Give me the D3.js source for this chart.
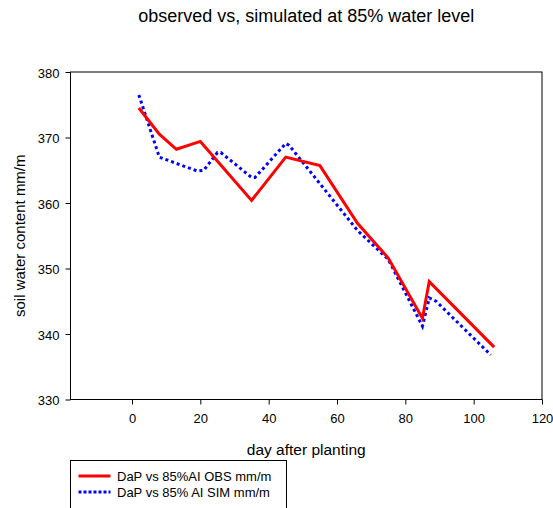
<!DOCTYPE html>
<html>
<head>
<meta charset="utf-8">
<script src="https://cdn.jsdelivr.net/npm/d3@7"></script>
<style>
  body { margin: 0; background: #fff; }
  svg { font-family: "Liberation Sans", Arial, sans-serif; }
</style>
</head>
<body>
<div id="svg"></div>
<script>
// observed (red) and simulated (blue) soil water
var obsDays = [2, 8, 13, 20, 35, 45, 55, 66, 75, 85, 87, 106];
var obsValues = [374.5, 370.5, 368.2, 369.4, 360.4, 367.0, 365.7, 356.9, 351.6, 342.4, 348.0, 338.0];

var simDays = [2, 8, 19, 21, 25, 26, 35, 36, 45, 46, 66, 75, 85, 87, 89, 105];
var simValues = [376.5, 367.0, 364.9, 365.0, 367.7, 367.7, 363.9, 363.9, 369.1, 368.8, 355.8, 351.4, 341.2, 345.5, 345.0, 336.8];

var xTicks = [0, 20, 40, 60, 80, 100, 120];
var yTicks = [330, 340, 350, 360, 370, 380];

var seriesNames = ["DaP vs 85%AI OBS mm/m", "DaP vs 85% AI SIM mm/m"];

// set the dimensions and margins of the graph
var margin = { top: 72, right: 11, bottom: 108.5, left: 70.5 },
    width = 553 - margin.left - margin.right,
    height = 508 - margin.top - margin.bottom;

var x = d3.scaleLinear().domain([-18, 120]).range([0, width]);
var y = d3.scaleLinear().domain([330, 380]).range([height, 0]);

var svg = d3.select("#svg").append("svg")
    .attr("width", 553)
    .attr("height", 508);

var g = svg.append("g")
    .attr("transform", "translate(" + margin.left + "," + margin.top + ")");

// title
svg.append("text")
    .attr("x", margin.left + width / 2)
    .attr("y", 22)
    .attr("text-anchor", "middle")
    .style("font-size", "18px")
    .text("observed vs, simulated at 85% water level");

// frame
g.append("rect")
    .attr("width", width)
    .attr("height", height)
    .attr("fill", "none")
    .attr("stroke", "#000");

// axes
var xAxis = g.append("g")
    .attr("transform", "translate(0," + height + ")")
    .call(d3.axisBottom(x).tickValues(xTicks).tickSize(5).tickPadding(9));

var yAxis = g.append("g")
    .call(d3.axisLeft(y).tickValues(yTicks).tickSize(5).tickPadding(6));

[xAxis, yAxis].forEach(function(a) {
    a.select(".domain").remove();
    a.selectAll("line").attr("stroke", "#000");
    a.selectAll("text")
        .style("font-size", "13px")
        .style("font-family", "Liberation Sans, Arial, sans-serif")
        .attr("fill", "#000");
});
yAxis.selectAll("text").attr("dy", "0.4em");

// axis titles
svg.append("text")
    .attr("x", margin.left + width / 2)
    .attr("y", 455)
    .attr("text-anchor", "middle")
    .style("font-size", "15.5px")
    .text("day after planting");

svg.append("text")
    .attr("transform", "translate(25," + (margin.top + height / 2) + ") rotate(-90)")
    .attr("text-anchor", "middle")
    .style("font-size", "15px")
    .text("soil water content mm/m");

// lines
var obs = obsDays.map(function(d, i) { return [d, obsValues[i]]; });
var sim = simDays.map(function(d, i) { return [d, simValues[i]]; });

var line = d3.line()
    .x(function(d) { return x(d[0]); })
    .y(function(d) { return y(d[1]); });

g.append("path")
    .datum(sim)
    .attr("d", line)
    .attr("fill", "none")
    .attr("stroke", "#0000ff")
    .attr("stroke-width", 3)
    .attr("stroke-dasharray", "3,3");

g.append("path")
    .datum(obs)
    .attr("d", line)
    .attr("fill", "none")
    .attr("stroke", "#ff0000")
    .attr("stroke-width", 3)
    .attr("stroke-linejoin", "miter");

// legend
var legend = svg.append("g").attr("transform", "translate(70.5,460.5)");
legend.append("rect")
    .attr("width", 216)
    .attr("height", 60)
    .attr("fill", "#fff")
    .attr("stroke", "#000");

var styles = [
    { color: "#ff0000", dash: null },
    { color: "#0000ff", dash: "3,2" }
];
seriesNames.forEach(function(name, i) {
    var yy = 15.5 + i * 16;
    legend.append("line")
        .attr("x1", 8).attr("x2", 40)
        .attr("y1", yy).attr("y2", yy)
        .attr("stroke", styles[i].color)
        .attr("stroke-width", 3)
        .attr("stroke-dasharray", styles[i].dash);
    legend.append("text")
        .attr("x", 46.5)
        .attr("y", yy + 4.5)
        .style("font-size", "13px")
        .text(name);
});
</script>
</body>
</html>
